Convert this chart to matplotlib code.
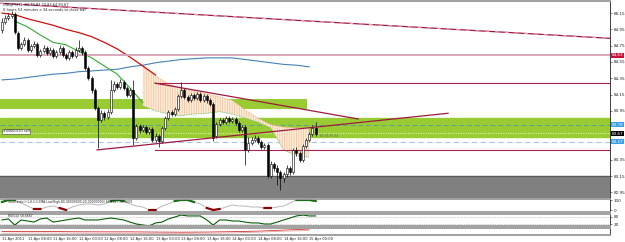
import matplotlib
matplotlib.use("Agg")
import matplotlib.pyplot as plt
import matplotlib.transforms as mtransforms
import numpy as np

W, H = 625, 242

# USDJPY H1 bars, 11 Apr 2011 00:00 onwards
opens = [84.94, 85.04, 85.09, 85.11, 85.14, 84.91, 84.72, 84.77, 84.82, 84.70,
         84.75, 84.77, 84.63, 84.68, 84.72, 84.66, 84.70, 84.62, 84.67, 84.72,
         84.63, 84.60, 84.67, 84.62, 84.70, 84.72, 84.67, 84.48, 84.35, 84.21,
         83.98, 83.84, 83.92, 83.87, 83.94, 84.21, 84.28, 84.24, 84.30, 84.23,
         84.14, 84.21, 83.62, 83.76, 83.71, 83.75, 83.69, 83.73, 83.59, 83.64,
         83.58, 83.74, 83.86, 83.94, 83.91, 83.97, 84.13, 84.21, 84.12, 84.08,
         84.14, 84.11, 84.16, 84.08, 84.13, 84.08, 84.03, 83.64, 83.79, 83.84,
         83.81, 83.86, 83.83, 83.85, 83.80, 83.71, 83.75, 83.47, 83.56, 83.59,
         83.62, 83.57, 83.51, 83.53, 83.15, 83.30, 83.25, 83.20, 83.13, 83.17,
         83.25, 83.20, 83.47, 83.43, 83.35, 83.52, 83.59, 83.67, 83.74]
highs = [85.09, 85.13, 85.15, 85.18, 85.16, 84.93, 84.79, 84.86, 84.84, 84.77,
         84.81, 84.79, 84.71, 84.76, 84.75, 84.73, 84.72, 84.70, 84.76, 84.75,
         84.66, 84.70, 84.70, 84.73, 84.82, 84.75, 84.70, 84.50, 84.38, 84.23,
         84.01, 83.96, 83.95, 83.97, 84.33, 84.32, 84.30, 84.34, 84.33, 84.25,
         84.23, 84.33, 83.79, 83.79, 83.78, 83.78, 83.75, 83.75, 83.68, 83.67,
         83.76, 83.89, 83.96, 83.96, 84.00, 84.16, 84.30, 84.23, 84.14, 84.17,
         84.17, 84.18, 84.18, 84.16, 84.16, 84.11, 84.06, 83.81, 83.86, 83.86,
         83.89, 83.89, 83.87, 83.87, 83.83, 83.78, 83.78, 83.63, 83.63, 83.65,
         83.64, 83.59, 83.56, 83.56, 83.33, 83.32, 83.29, 83.22, 83.20, 83.29,
         83.27, 83.49, 83.51, 83.46, 83.54, 83.62, 83.69, 83.78, 83.81]
lows = [84.91, 85.02, 85.06, 85.09, 84.89, 84.70, 84.70, 84.75, 84.67, 84.67,
        84.72, 84.61, 84.61, 84.66, 84.63, 84.63, 84.60, 84.60, 84.65, 84.61,
        84.57, 84.57, 84.60, 84.60, 84.67, 84.63, 84.45, 84.33, 84.17, 83.96,
        83.49, 83.81, 83.84, 83.85, 83.91, 84.18, 84.22, 84.22, 84.21, 84.12,
        84.12, 83.53, 83.59, 83.68, 83.69, 83.67, 83.67, 83.57, 83.57, 83.51,
        83.56, 83.71, 83.84, 83.89, 83.89, 83.95, 84.11, 84.10, 84.06, 84.06,
        84.08, 84.08, 84.06, 84.06, 84.05, 84.01, 83.58, 83.62, 83.76, 83.79,
        83.79, 83.80, 83.80, 83.78, 83.69, 83.69, 83.29, 83.44, 83.53, 83.57,
        83.54, 83.48, 83.48, 83.13, 83.13, 83.21, 83.04, 82.98, 83.08, 83.14,
        83.16, 83.17, 83.40, 83.32, 83.32, 83.49, 83.57, 83.64, 83.64]
closes = [85.04, 85.09, 85.11, 85.14, 84.92, 84.72, 84.77, 84.82, 84.70, 84.75,
          84.77, 84.63, 84.68, 84.72, 84.66, 84.70, 84.62, 84.67, 84.72, 84.63,
          84.60, 84.67, 84.62, 84.70, 84.72, 84.67, 84.48, 84.35, 84.21, 83.98,
          83.84, 83.92, 83.87, 83.94, 84.21, 84.28, 84.24, 84.30, 84.23, 84.14,
          84.21, 83.62, 83.76, 83.71, 83.75, 83.69, 83.73, 83.59, 83.64, 83.58,
          83.74, 83.86, 83.94, 83.91, 83.97, 84.13, 84.21, 84.12, 84.08, 84.14,
          84.11, 84.16, 84.08, 84.13, 84.08, 84.03, 83.62, 83.79, 83.84, 83.81,
          83.86, 83.83, 83.85, 83.80, 83.71, 83.75, 83.47, 83.56, 83.59, 83.62,
          83.57, 83.51, 83.53, 83.15, 83.30, 83.25, 83.20, 83.13, 83.17, 83.25,
          83.20, 83.47, 83.43, 83.35, 83.52, 83.59, 83.67, 83.74, 83.67]

# moving averages (sampled every 4 bars)
blue_bars = list(range(0, 97, 4))
blue_ma = [84.33, 84.34, 84.36, 84.38, 84.40, 84.41, 84.43, 84.44, 84.45, 84.46,
           84.49, 84.51, 84.54, 84.56, 84.58, 84.59, 84.60, 84.60, 84.60, 84.58,
           84.56, 84.54, 84.52, 84.51, 84.49]
red_bars = list(range(0, 49, 4))
red_ma = [85.15, 85.13, 85.08, 85.04, 85.00, 84.95, 84.91, 84.86, 84.79, 84.71,
          84.61, 84.50, 84.39]
green_bars = list(range(4, 45, 4))
green_ma = [85.05, 84.98, 84.88, 84.79, 84.76, 84.68, 84.60, 84.50, 84.40, 84.23, 84.05]

# cloud
cloud_bars = list(range(44, 97, 4))
cloud_top = [84.50, 84.38, 84.28, 84.23, 84.19, 84.16, 84.12, 84.08, 83.96, 83.86,
             83.78, 83.75, 83.74, 83.74]
cloud_bottom = [84.01, 83.95, 83.91, 83.89, 83.91, 83.92, 83.94, 83.91, 83.86, 83.81,
                83.74, 83.47, 83.40, 83.38]

# drawn objects
trend_lines = [(-0.6, 85.27, 190.0, 84.84),   # long top line
               (29.7, 83.47, 139.4, 83.92),   # rising support
               (47.8, 84.29, 111.3, 83.85)]   # falling line
hlines_full = [84.63]
hlines_part = [(47.8, 84.29), (47.8, 83.47)]
zone_green = (83.63, 83.86)
zone_green_small = (83.97, 84.10, 95.3)
zone_gray = (82.80, 83.15)
order_price = 83.70
entry_dash = 83.78
blue_dash = 83.57
bid = 83.67

price_ticks = [85.15, 84.95, 84.75, 84.55, 84.35, 84.15, 83.95, 83.35, 83.15, 82.95]

# oscillators (every 2 bars)
osc_bars = list(range(0, 99, 2))
stoch = [80, 100, 100, 70, 40, 10, 10, 30, 40, 20, 0, 30, 50, 60, 60, 50, 60, 90, 100, 90,
         60, 40, 30, 0, 0, 40, 60, 90, 100, 100, 80, 60, 20, 0, 10, 30, 50, 40, 40, 30,
         30, 20, 20, 30, 40, 70, 100, 100, 100, 90]
rsi = [53, 59, 24, 53, 47, 41, 59, 64, 41, 47, 53, 59, 64, 53, 53, 53, 59, 64, 59, 53,
       41, 30, 24, 19, 36, 41, 59, 70, 81, 76, 76, 76, 53, 24, 53, 53, 47, 47, 41, 36,
       36, 30, 30, 41, 53, 64, 76, 81, 76, 76]
ind3_bars = list(range(0, 97, 8))
ind3_a = [0.50, 0.52, 0.50, 0.46, 0.45, 0.45, 0.42, 0.40, 0.42, 0.48, 0.55, 0.70, 0.85]
ind3_b = [0.25, 0.28, 0.27, 0.25, 0.22, 0.22, 0.20, 0.22, 0.25, 0.30, 0.40, 0.55, 0.65]

time_labels = ["11 Apr 2011", "11 Apr 08:00", "11 Apr 16:00", "12 Apr 00:00", "12 Apr 08:00",
               "12 Apr 16:00", "13 Apr 00:00", "13 Apr 08:00", "13 Apr 16:00", "14 Apr 00:00",
               "14 Apr 08:00", "14 Apr 16:00", "15 Apr 00:00"]
time_label_bars = list(range(0, 97, 8))

fig = plt.figure(figsize=(W / 100, H / 100), dpi=100)
fig.patch.set_facecolor("white")

XMIN, XMAX = -0.625, 190.0


def px_axes(y0, y1):
    a = fig.add_axes([0, 1 - y1 / H, 610 / W, (y1 - y0) / H])
    a.set_xlim(XMIN, XMAX)
    a.set_xticks([])
    a.set_facecolor("white")
    a.spines["left"].set_visible(False)
    for s in ("top", "bottom"):
        a.spines[s].set_color("#9a9a9a")
        a.spines[s].set_linewidth(1.3)
    a.spines["right"].set_color("#202020")
    a.spines["right"].set_linewidth(0.6)
    a.yaxis.tick_right()
    a.tick_params(axis="y", length=1.5, width=0.4, pad=1, labelsize=3.0, colors="#202020")
    return a


ax = px_axes(1, 198)
ax.set_ylim(82.88, 85.298)
ax.set_yticks(price_ticks)
ax.set_yticklabels(["%.2f" % p for p in price_ticks])
ax.spines["bottom"].set_visible(False)

# zones
ax.axhspan(zone_gray[0], zone_gray[1], color="#808080", zorder=0)
ax.axhline(zone_gray[1], color="#5a5a5a", lw=0.8, zorder=0.5)
ax.axhspan(zone_green[0], zone_green[1], color="#99cc33", zorder=0)
ax.fill_between([XMIN, zone_green_small[2]], zone_green_small[0], zone_green_small[1],
                color="#99cc33", lw=0, zorder=0)
ax.axhline(entry_dash, color="#5f9ea0", lw=0.7, ls=(0, (5, 3)), zorder=1)
ax.axhline(order_price - 0.02, color="#d4ee9a", lw=0.9, ls=(0, (1, 1)), zorder=1)
ax.axhline(blue_dash, color="#a9c8e8", lw=0.8, ls=(0, (5, 3)), zorder=1)

# cloud
plt.rcParams["hatch.linewidth"] = 0.6
ax.fill_between(cloud_bars, cloud_top, cloud_bottom, facecolor="#fdeede",
                edgecolor="#f5c496", hatch="|||||||", lw=0, zorder=1)
ax.plot(cloud_bars, cloud_top, color="#e0a070", lw=0.5, ls=(0, (1, 1)), zorder=1.5)
ax.plot(cloud_bars, cloud_bottom, color="#5cb85c", lw=0.6, ls=(0, (1, 1)), zorder=1.5)

# moving averages
ax.plot(blue_bars, blue_ma, color="#4682b4", lw=0.8, zorder=2)
ax.plot(red_bars, red_ma, color="#cc1111", lw=0.9, zorder=2)
ax.plot(green_bars, green_ma, color="#33aa33", lw=0.8, zorder=2)

# horizontal lines
for p in hlines_full:
    ax.axhline(p, color="#d8a0b6", lw=1.3, zorder=2)
for x0, p in hlines_part:
    ax.plot([x0, XMAX], [p, p], color="#a8234f", lw=0.8, zorder=2)

# trend lines
for i, (x0, p0, x1, p1) in enumerate(trend_lines):
    ax.plot([x0, x1], [p0, p1], color="#9b1b40", lw=0.9, zorder=6)
    if i == 0:
        ax.plot([x0, x1], [p0, p1], color="#f0a8bc", lw=0.7, ls=(0, (4, 6)), zorder=6)

# candles
o = np.array(opens)
c = np.array(closes)
hi = np.array(highs)
lo = np.array(lows)
idx = np.arange(len(c))
up = c >= o
ax.vlines(idx, lo, hi, color="black", lw=0.5, zorder=4)
body_lo = np.minimum(o, c)
body_h = np.maximum(np.abs(c - o), 0.008)
ax.bar(idx[up], body_h[up], bottom=body_lo[up], width=0.62, color="white",
       edgecolor="black", lw=0.4, zorder=5)
ax.bar(idx[~up], body_h[~up], bottom=body_lo[~up], width=0.62, color="black",
       edgecolor="black", lw=0.4, zorder=5)

# labels on chart
ax.text(0.3, order_price, "#40660253 sell", fontsize=2.4, va="center", ha="left",
        color="#202020", zorder=7,
        bbox=dict(boxstyle="square,pad=0.15", fc="white", ec="#404040", lw=0.4))
ax.text(99.5, 83.64, "83.65 83.64", fontsize=2.2, va="center", ha="left", color="#606060", zorder=7)
fig.text(3 / W, 1 - 5 / H, "USDJPY,H1  83.70 83.73 83.64 83.67", fontsize=2.6,
         va="center", ha="left", color="#202020")
fig.text(3 / W, 1 - 10 / H, "0 hours 53 minutes e 34 seconds to close bar", fontsize=2.6,
         va="center", ha="left", color="#202020")

# price tags on the right axis
trans = mtransforms.blended_transform_factory(ax.transAxes, ax.transData)
for p, col in [(hlines_full[0], "#c8103a"), (entry_dash, "#3a9ee8"), (bid, "black"), (blue_dash, "#3a9ee8")]:
    ax.text(1.003, p, "%.2f" % p, transform=trans, fontsize=3.0, color="white", va="center",
            ha="left", zorder=8, clip_on=False,
            bbox=dict(boxstyle="square,pad=0.12", fc=col, ec="none"))

# stochastic
ax2 = px_axes(199, 212)
ax2.set_ylim(-20, 110)
ax2.set_yticks([100, 0])
ax2.set_yticklabels(["100", "0"])
st = np.array(stoch, dtype=float)
ax2.plot(osc_bars, st, color="#b8b8b8", lw=0.7)
ax2.plot(osc_bars, np.where(st >= 80, st, np.nan), color="#1a6b1a", lw=1.6)
ax2.plot(osc_bars, np.where(st <= 20, st, np.nan), color="#8b0000", lw=1.6)
ax2.text(2, 104, "Stochastic(+1,8,3,3,SMA,Low/High,80.00000000,20.00000000) 64.4987 76.9609",
         fontsize=2.2, va="top", ha="left", color="#202020")

# RSI
ax3 = px_axes(214, 226)
ax3.set_ylim(18.6, 87.1)
ax3.set_yticks([70, 30])
ax3.set_yticklabels(["80", "20"])
for lvl in (70, 30):
    ax3.axhline(lvl, color="#a0a0a0", lw=0.5, ls=(0, (1, 1.5)))
ax3.plot(osc_bars, rsi, color="#0b5d0b", lw=0.8)
ax3.text(2, 85, "RSI(14) 58.6667", fontsize=2.2, va="top", ha="left", color="#202020")

# third indicator
ax4 = px_axes(228, 235)
ax4.set_ylim(0, 1)
ax4.set_yticks([])
ax4.plot(ind3_bars, ind3_a, color="#cc3333", lw=0.6)
ax4.plot(ind3_bars, ind3_b, color="#e8a8a8", lw=0.6)

# time axis
for b, lab in zip(time_label_bars, time_labels):
    xpix = 2 + 3.2 * b
    fig.text(xpix / W, 1 - 239 / H, lab, fontsize=2.6, va="center", ha="left", color="#202020")

fig.savefig("out.png", dpi=100, facecolor="white")
